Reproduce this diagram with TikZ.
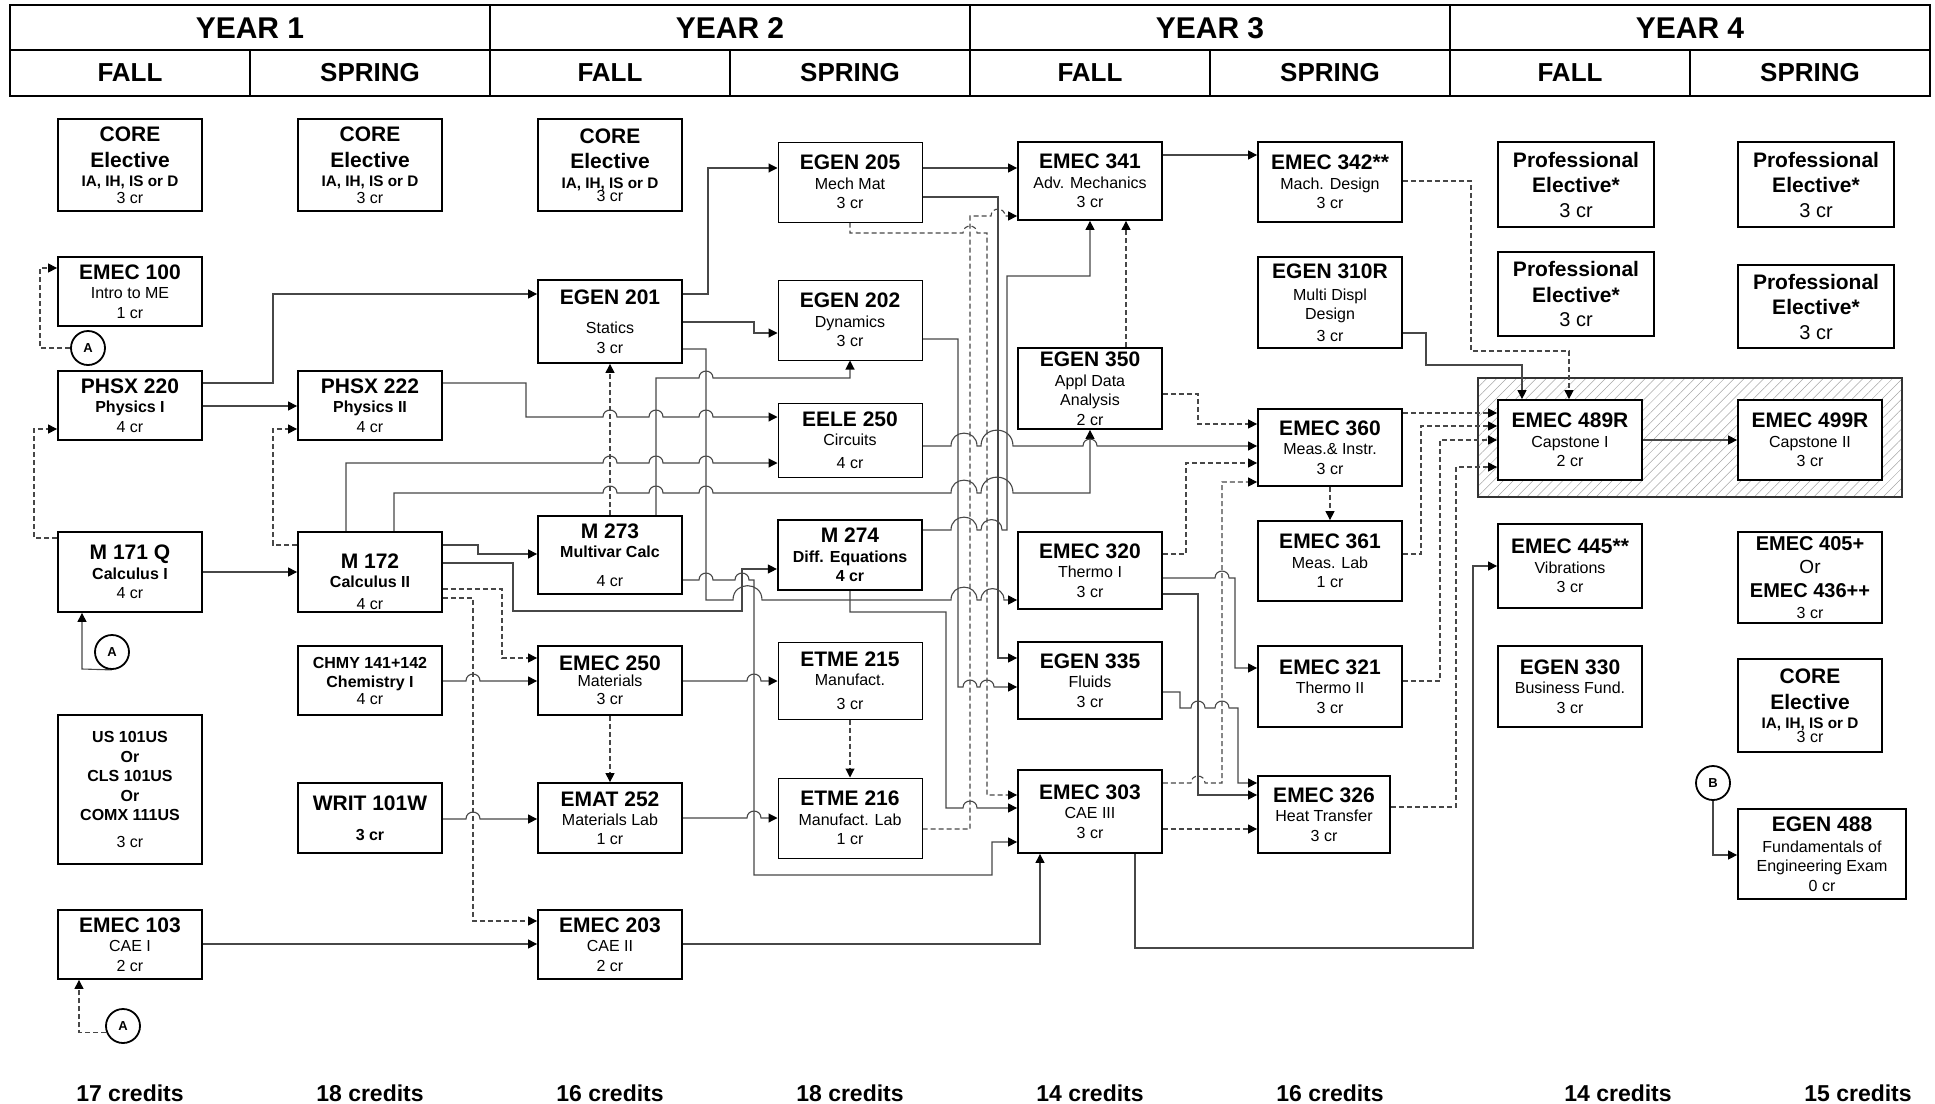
\documentclass[tikz,border=0pt]{standalone}
\usepackage{fontspec}
\setmainfont{Liberation Sans}
\usetikzlibrary{arrows.meta,patterns.meta}
\pgfdeclarelayer{bg}
\pgfsetlayers{bg,main}
\newcommand\TT[1]{{\fontsize{21}{20}\selectfont\bfseries #1}}
\newcommand\BB[1]{{\fontsize{16}{19}\selectfont\bfseries #1}}
\newcommand\IAt[1]{{\fontsize{15.3}{18}\selectfont\bfseries #1}}
\newcommand\jmpr[3]{-- (#1,#3) .. controls ({#1},{#3-0.66*((#2)-(#1))}) and ({#2},{#3-0.66*((#2)-(#1))}) .. (#2,#3)}
\newcommand\jmpc[2]{\jmpr{#1-7}{#1+7}{#2}}
\begin{document}
\begin{tikzpicture}[x=1pt,y=-1pt,
  box/.style={draw=black, line width=1.8pt, fill=white, rectangle, inner sep=0pt, align=center, font=\fontsize{16}{19.5}\selectfont},
  lite/.style={line width=1pt},
  circ/.style={circle, draw=black, line width=1.8pt, fill=white, minimum size=34pt, inner sep=0pt, font=\fontsize{13}{13}\selectfont\bfseries},
  con/.style={draw=black!72, line width=1.1pt},
  dsh/.style={con, dash pattern=on 5pt off 3pt},
  arr/.style={-{Triangle[length=9pt,width=9pt,black]}},
  hdr/.style={font=\fontsize{30}{30}\selectfont\bfseries},
  sem/.style={font=\fontsize{26}{26}\selectfont\bfseries},
  cred/.style={font=\fontsize{23}{23}\selectfont\bfseries}]
\useasboundingbox (0,0) rectangle (1935,1103);
% ---------------- header ----------------
\draw[line width=1.8pt] (10,5) rectangle (1930,96);
\draw[line width=1.8pt] (10,50) -- (1930,50);
\foreach \x in {490,970,1450} \draw[line width=1.8pt] (\x,5) -- (\x,96);
\foreach \x in {250,730,1210,1690} \draw[line width=1.8pt] (\x,50) -- (\x,96);
\foreach \i/\x in {1/250,2/730,3/1210,4/1690} \node[hdr] (yr\i) at (\x,28) {YEAR \i};
\foreach \i/\x/\t in {1/130/FALL,2/370/SPRING,3/610/FALL,4/850/SPRING,5/1090/FALL,6/1330/SPRING,7/1570/FALL,8/1810/SPRING}
  \node[sem] (sem\i) at (\x,73) {\t};
\foreach \i/\x/\t in {1/130/17,2/370/18,3/610/16,4/850/18,5/1090/14,6/1330/16,7/1618/14,8/1858/15}
  \node[cred] (cr\i) at (\x,1093) {\t\ credits};
% ---------------- year 1 fall ----------------
\node[box,minimum width=144pt,minimum height=92pt] (core1) at (130,165) {\TT{CORE}\\[6pt]\TT{Elective}\\\IAt{IA, IH, IS or D}\\[-3pt]3 cr};
\node[box,minimum width=144pt,minimum height=69pt] (emec100) at (130,291.5) {\TT{EMEC 100}\\Intro to ME\\1 cr};
\node[box,minimum width=144pt,minimum height=69pt] (phsx220) at (130,405.5) {\TT{PHSX 220}\\\BB{Physics I}\\4 cr};
\node[box,minimum width=144pt,minimum height=80pt] (m171) at (130,572) {\TT{M 171 Q}\\\BB{Calculus I}\\4 cr};
\node[box,minimum width=144pt,minimum height=149pt] (us) at (130,789.5) {\BB{US 101US}\\\BB{Or}\\\BB{CLS 101US}\\\BB{Or}\\\BB{COMX 111US}\\[7pt]3 cr};
\node[box,minimum width=144pt,minimum height=69pt] (emec103) at (130,944.5) {\TT{EMEC 103}\\CAE I\\2 cr};
\node[circ] (ca1) at (88,348) {A};
\node[circ] (ca2) at (112,652) {A};
\node[circ] (ca3) at (123,1026) {A};
% ---------------- year 1 spring ----------------
\node[box,minimum width=144pt,minimum height=92pt] (core2) at (370,165) {\TT{CORE}\\[6pt]\TT{Elective}\\\IAt{IA, IH, IS or D}\\[-3pt]3 cr};
\node[box,minimum width=144pt,minimum height=69pt] (phsx222) at (370,405.5) {\TT{PHSX 222}\\\BB{Physics II}\\4 cr};
\node[box,minimum width=144pt,minimum height=80pt] (m172) at (370,572) {\rule{0pt}{34pt}\TT{M 172}\\\BB{Calculus II}\\[2pt]4 cr};
\node[box,minimum width=144pt,minimum height=69pt] (chmy) at (370,680.5) {\BB{CHMY 141+142}\\\BB{Chemistry I}\\[-3pt]4 cr};
\node[box,minimum width=144pt,minimum height=70pt] (writ) at (370,818) {\TT{WRIT 101W}\\[10pt]\BB{3 cr}};
% ---------------- year 2 fall ----------------
\node[box,minimum width=144pt,minimum height=92pt] (core3) at (610,165) {\TT{CORE}\\[6pt]\TT{Elective}\\\IAt{IA, IH, IS or D}\\[-6pt]3 cr};
\node[box,minimum width=144pt,minimum height=83pt] (egen201) at (610,321.5) {\TT{EGEN 201}\\[10pt]Statics\\3 cr};
\node[box,minimum width=144pt,minimum height=78pt] (m273) at (610,555) {\TT{M 273}\\\BB{Multivar Calc}\\[9pt]4 cr};
\node[box,minimum width=144pt,minimum height=69pt] (emec250) at (610,680.5) {\TT{EMEC 250}\\[-4pt]Materials\\[-1pt]3 cr};
\node[box,minimum width=144pt,minimum height=70pt] (emat252) at (610,818) {\TT{EMAT 252}\\Materials Lab\\[-1pt]1 cr};
\node[box,minimum width=144pt,minimum height=69pt] (emec203) at (610,944.5) {\TT{EMEC 203}\\CAE II\\2 cr};
% ---------------- year 2 spring ----------------
\node[box,lite,minimum width=144pt,minimum height=80pt] (egen205) at (850,182) {\TT{EGEN 205}\\Mech Mat\\3 cr};
\node[box,lite,minimum width=144pt,minimum height=80pt] (egen202) at (850,320) {\TT{EGEN 202}\\Dynamics\\3 cr};
\node[box,lite,minimum width=144pt,minimum height=74pt] (eele250) at (850,440) {\TT{EELE 250}\\Circuits\\[3pt]4 cr};
\node[box,line width=2.2pt,minimum width=144pt,minimum height=70pt] (m274) at (850,555) {\TT{M 274}\\\BB{Diff. Equations}\\\BB{4 cr}};
\node[box,lite,minimum width=144pt,minimum height=77pt] (etme215) at (850,680.5) {\TT{ETME 215}\\Manufact.\\[4pt]3 cr};
\node[box,lite,minimum width=144pt,minimum height=80pt] (etme216) at (850,818) {\TT{ETME 216}\\Manufact. Lab\\1 cr};
% ---------------- year 3 fall ----------------
\node[box,minimum width=144pt,minimum height=78pt] (emec341) at (1090,181) {\TT{EMEC 341}\\Adv. Mechanics\\3 cr};
\node[box,minimum width=144pt,minimum height=81pt] (egen350) at (1090,388.5) {\TT{EGEN 350}\\Appl Data\\Analysis\\2 cr};
\node[box,minimum width=144pt,minimum height=77pt] (emec320) at (1090,570.5) {\TT{EMEC 320}\\Thermo I\\3 cr};
\node[box,minimum width=144pt,minimum height=77pt] (egen335) at (1090,680.5) {\TT{EGEN 335}\\Fluids\\3 cr};
\node[box,minimum width=144pt,minimum height=83pt] (emec303) at (1090,811.5) {\TT{EMEC 303}\\CAE III\\3 cr};
% ---------------- year 3 spring ----------------
\node[box,minimum width=144pt,minimum height=80pt] (emec342) at (1330,182) {\TT{EMEC 342**}\\Mach. Design\\3 cr};
\node[box,minimum width=144pt,minimum height=91pt] (egen310) at (1330,302.5) {\TT{EGEN 310R}\\[2pt]Multi Displ\\Design\\[2pt]3 cr};
\node[box,minimum width=144pt,minimum height=77pt] (emec360) at (1330,447.5) {\TT{EMEC 360}\\Meas.\&~Instr.\\3 cr};
\node[box,minimum width=144pt,minimum height=80pt] (emec361) at (1330,561) {\TT{EMEC 361}\\Meas. Lab\\1 cr};
\node[box,minimum width=144pt,minimum height=81pt] (emec321) at (1330,686.5) {\TT{EMEC 321}\\Thermo II\\3 cr};
\node[box,minimum width=132pt,minimum height=77pt] (emec326) at (1324,814.5) {\TT{EMEC 326}\\Heat Transfer\\3 cr};
% ---------------- year 4 ----------------
\begin{pgfonlayer}{bg}
\draw[line width=1.3pt, draw=black!80, pattern={Lines[angle=45,distance=7pt,line width=0.5pt]}, pattern color=black!35] (1478,378) rectangle (1902,497);
\end{pgfonlayer}
\node[box,minimum width=156pt,minimum height=85pt] (pe1) at (1576,184.5) {\TT{Professional}\\[6pt]\TT{Elective*}\\[5pt]{\fontsize{20}{20}\selectfont 3 cr}};
\node[box,minimum width=156pt,minimum height=84pt] (pe2) at (1576,294) {\TT{Professional}\\[6pt]\TT{Elective*}\\[5pt]{\fontsize{20}{20}\selectfont 3 cr}};
\node[box,minimum width=156pt,minimum height=85pt] (pe3) at (1816,184.5) {\TT{Professional}\\[6pt]\TT{Elective*}\\[5pt]{\fontsize{20}{20}\selectfont 3 cr}};
\node[box,minimum width=156pt,minimum height=83pt] (pe4) at (1816,306.5) {\TT{Professional}\\[6pt]\TT{Elective*}\\[5pt]{\fontsize{20}{20}\selectfont 3 cr}};
\node[box,minimum width=144pt,minimum height=80pt] (emec489) at (1570,440) {\TT{EMEC 489R}\\Capstone I\\2 cr};
\node[box,minimum width=144pt,minimum height=80pt] (emec499) at (1810,440) {\TT{EMEC 499R}\\Capstone II\\3 cr};
\node[box,minimum width=144pt,minimum height=84pt] (emec445) at (1570,566) {\TT{EMEC 445**}\\Vibrations\\3 cr};
\node[box,minimum width=144pt,minimum height=81pt] (egen330) at (1570,686.5) {\TT{EGEN 330}\\Business Fund.\\3 cr};
\node[box,minimum width=144pt,minimum height=91pt] (emec405) at (1810,577.5) {{\fontsize{20}{20}\selectfont\bfseries EMEC 405+}\\[4pt]{\fontsize{19}{19}\selectfont Or}\\[4pt]{\fontsize{20}{20}\selectfont\bfseries EMEC 436++}\\[2pt]3 cr};
\node[box,minimum width=144pt,minimum height=93pt] (core4) at (1810,705.5) {\TT{CORE}\\[6pt]\TT{Elective}\\\IAt{IA, IH, IS or D}\\[-6pt]3 cr};
\node[circ] (cb) at (1713,783) {B};
\node[box,minimum width=168pt,minimum height=90pt] (egen488) at (1822,854) {\TT{EGEN 488}\\[1pt]Fundamentals of\\Engineering Exam\\0 cr};
% ---------------- connectors ----------------
\begin{pgfonlayer}{bg}
% year 1
\draw[dsh,arr] (ca1.west) -- (40,348) -- (40,268) -- (emec100.west|-0,268);
\draw[dsh,arr] (m171.west|-0,538) -- (34,538) -- (34,429) -- (phsx220.west|-0,429);
\draw[con,arr] (ca2.south) -- (82,669) -- (m171.south-|82,0);
\draw[dsh,arr] (ca3.200) -- (ca3.200-|79,0) -- (emec103.south-|79,0);
\draw[con,arr] (phsx220.east|-0,383) -- (273,383) -- (273,294) -- (egen201.west|-0,294);
\draw[con,arr] (phsx220.east|-0,406) -- (phsx222.west|-0,406);
\draw[con,arr] (m171.east|-0,572) -- (m172.west|-0,572);
\draw[dsh,arr] (m172.west|-0,545) -- (273,545) -- (273,429) -- (phsx222.west|-0,429);
\draw[con,arr] (emec103.east|-0,944) -- (emec203.west|-0,944);
% year 1 spring
\draw[con,arr] (phsx222.east|-0,383) -- (526,383) -- (526,417) \jmpc{610}{417} \jmpc{656}{417} \jmpc{706}{417} -- (eele250.west|-0,417);
\draw[con,arr] (m172.north-|346,0) -- (346,463) \jmpc{610}{463} \jmpc{656}{463} \jmpc{706}{463} -- (eele250.west|-0,463);
\draw[con,arr] (m172.north-|394,0) -- (394,493) \jmpc{610}{493} \jmpc{656}{493} \jmpc{706}{493} \jmpr{951}{977}{493} \jmpr{981}{1013}{493} -- (1090,493) -- (egen350.south-|1090,0);
\draw[con,arr] (m172.east|-0,545) -- (478,545) -- (478,554) -- (m273.west|-0,554);
\draw[con,arr] (m172.east|-0,563) -- (513,563) -- (513,611) -- (742,611) -- (742,569) -- (m274.west|-0,569);
\draw[dsh,arr] (m172.east|-0,589) -- (502,589) -- (502,658) -- (emec250.west|-0,658);
\draw[dsh,arr] (m172.east|-0,598) -- (473,598) -- (473,921) -- (emec203.west|-0,921);
\draw[con,arr] (chmy.east|-0,681) \jmpc{473}{681} -- (emec250.west|-0,681);
\draw[con,arr] (writ.east|-0,819) \jmpc{473}{819} -- (emat252.west|-0,819);
% year 2 fall
\draw[dsh,arr] (emec250.south) -- (emat252.north);
\draw[dsh,arr] (m273.north) -- (egen201.south);
\draw[con,arr] (m273.north-|656,0) -- (656,378) \jmpc{706}{378} -- (850,378) -- (egen202.south);
\draw[con,arr] (egen201.east|-0,294) -- (708,294) -- (708,168) -- (egen205.west|-0,168);
\draw[con,arr] (egen201.east|-0,322) -- (754,322) -- (754,333) -- (egen202.west|-0,333);
\draw[con,arr] (egen201.east|-0,349) -- (706,349) -- (706,600) \jmpr{733}{762}{600} \jmpr{951}{977}{600} \jmpr{981}{1004}{600} -- (emec320.west|-0,600);
\draw[con,arr] (m273.east|-0,580) \jmpc{706}{580} \jmpc{742}{580} -- (754,580) -- (754,875) -- (992,875) -- (992,842) -- (emec303.west|-0,842);
\draw[con,arr] (emec250.east|-0,681) \jmpc{754}{681} -- (etme215.west|-0,681);
\draw[con,arr] (emat252.east|-0,818) \jmpc{754}{818} -- (etme216.west|-0,818);
\draw[con,arr] (emec203.east|-0,944) -- (1040,944) -- (emec303.south-|1040,0);
% year 2 spring
\draw[dsh,arr] (etme215.south) -- (etme216.north);
\draw[con,arr] (egen205.east|-0,168) -- (emec341.west|-0,168);
\draw[con,arr] (egen205.east|-0,197) -- (998,197) -- (998,658) -- (egen335.west|-0,658);
\draw[dsh,arr] (egen205.south) -- (850,233) \jmpc{970}{233} -- (987,233) -- (987,795) -- (emec303.west|-0,795);
\draw[dsh,arr] (etme216.east|-0,829) -- (970,829) -- (970,216) \jmpc{998}{216} -- (emec341.west|-0,216);
\draw[con,arr] (egen202.east|-0,339) -- (958,339) -- (958,687) \jmpc{970}{687} \jmpc{987}{687} -- (egen335.west|-0,687);
\draw[con,arr] (eele250.east|-0,446) \jmpr{951}{977}{446} \jmpr{981}{1013}{446} \jmpc{1090}{446} -- (emec360.west|-0,446);
\draw[con,arr] (m274.east|-0,530) \jmpr{951}{977}{530} \jmpr{981}{1002}{530} -- (1007,530) -- (1007,276) -- (1090,276) -- (emec341.south);
\draw[con,arr] (m274.south) -- (850,612) -- (946,612) -- (946,808) \jmpc{970}{808} -- (emec303.west|-0,808);
% year 3
\draw[con,arr] (emec341.east|-0,155) -- (emec342.west|-0,155);
\draw[dsh,arr] (egen350.north-|1126,0) -- (emec341.south-|1126,0);
\draw[dsh,arr] (egen350.east|-0,394) -- (1198,394) -- (1198,424) -- (emec360.west|-0,424);
\draw[dsh,arr] (emec320.east|-0,554) -- (1186,554) -- (1186,463) -- (emec360.west|-0,463);
\draw[dsh,arr] (emec303.east|-0,783) \jmpc{1198}{783} -- (1222,783) -- (1222,482) -- (emec360.west|-0,482);
\draw[dsh,arr] (emec360.south) -- (emec361.north);
\draw[con,arr] (emec320.east|-0,578) \jmpc{1222}{578} -- (1235,578) -- (1235,668) -- (emec321.west|-0,668);
\draw[con,arr] (emec320.east|-0,594) -- (1198,594) -- (1198,795) -- (emec326.west|-0,795);
\draw[con,arr] (egen335.east|-0,692) -- (1180,692) -- (1180,708) \jmpc{1198}{708} \jmpc{1222}{708} -- (1238,708) -- (1238,783) -- (emec326.west|-0,783);
\draw[dsh,arr] (emec303.east|-0,829) -- (emec326.west|-0,829);
\draw[con,arr] (emec303.south-|1135,0) -- (1135,948) -- (1473,948) -- (1473,566) -- (emec445.west|-0,566);
\draw[dsh,arr] (emec342.east|-0,181) -- (1471,181) -- (1471,351) -- (1569,351) -- (emec489.north-|1569,0);
\draw[con,arr] (egen310.east|-0,333) -- (1426,333) -- (1426,365) -- (1522,365) -- (emec489.north-|1522,0);
\draw[dsh,arr] (emec360.east|-0,413) -- (emec489.west|-0,413);
\draw[dsh,arr] (emec361.east|-0,554) -- (1421,554) -- (1421,426) -- (emec489.west|-0,426);
\draw[dsh,arr] (emec321.east|-0,681) -- (1440,681) -- (1440,440) -- (emec489.west|-0,440);
\draw[dsh,arr] (emec326.east|-0,807) -- (1456,807) -- (1456,467) -- (emec489.west|-0,467);
% year 4
\draw[con,arr] (emec489.east) -- (emec499.west);
\draw[con,arr] (cb.south) -- (1713,855) -- (egen488.west|-0,855);
\end{pgfonlayer}
\end{tikzpicture}
\end{document}
